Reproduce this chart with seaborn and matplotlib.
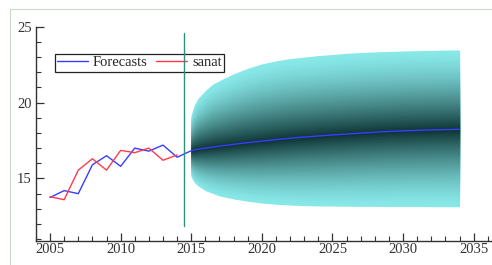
import numpy as np
import pandas as pd
import matplotlib
matplotlib.use("Agg")
import matplotlib.pyplot as plt
from matplotlib.patches import Rectangle
from matplotlib.colors import to_rgb
import seaborn as sns

# ---- data ----
hist_years = list(range(2005, 2015))
sanat = [13.8, 13.6, 15.55, 16.3, 15.55, 16.85, 16.7, 17.0, 16.2, 16.55]
fitted_years = list(range(2005, 2015))
fitted = [13.75, 14.2, 14.0, 15.9, 16.5, 15.8, 17.0, 16.8, 17.2, 16.4]

fc_years = [2015, 2015.25, 2015.5, 2016, 2016.5, 2017, 2018, 2019, 2020, 2021,
            2022, 2023, 2024, 2025, 2026, 2027, 2028, 2029, 2030, 2031,
            2032, 2033, 2034]
forecast = [16.83, 16.88, 16.93, 17.0, 17.07, 17.13, 17.25, 17.36, 17.46, 17.56,
            17.65, 17.73, 17.8, 17.87, 17.93, 17.99, 18.05, 18.1, 18.14, 18.17,
            18.2, 18.22, 18.24]
upper = [19.2, 19.9, 20.3, 20.8, 21.2, 21.45, 21.9, 22.26, 22.55, 22.75,
         22.9, 23.0, 23.1, 23.17, 23.25, 23.3, 23.34, 23.37, 23.4, 23.42,
         23.44, 23.46, 23.47]
lower = [15.1, 14.7, 14.5, 14.2, 14.02, 13.85, 13.65, 13.5, 13.38, 13.3,
         13.25, 13.21, 13.19, 13.18, 13.17, 13.16, 13.16, 13.15, 13.15, 13.15,
         13.14, 13.14, 13.14]
break_year = 2014.5

sns.set_theme(style="ticks")
plt.rcParams['font.family'] = ['Liberation Serif', 'DejaVu Serif']

fig = plt.figure(figsize=(4.92, 2.65), dpi=100)
ax = fig.add_axes([0.073, 0.0917, 0.927, 0.8075])

# fan chart with gradient (layered fills)
fy = np.array(fc_years, float)
fc = np.array(forecast)
up = np.array(upper)
lo = np.array(lower)
outer = np.array(to_rgb("#88e8e8"))
inner = np.array(to_rgb("#0c3232"))
n = 50
for i in range(n):
    t = 1 - i / n  # from outer to inner
    s = (1 - t) ** 1.45
    col = outer * (1 - s) + inner * s
    ax.fill_between(fy, fc + t * (up - fc), fc + t * (lo - fc),
                    color=col, linewidth=0, zorder=1)

# history lines
df_hist = pd.DataFrame({"year": hist_years, "value": sanat})
df_fit = pd.DataFrame({"year": fitted_years + fc_years,
                       "value": fitted + forecast})
sns.lineplot(data=df_fit, x="year", y="value", ax=ax, color="#3a3cff",
             lw=1.0, label="Forecasts", zorder=3)
sns.lineplot(data=df_hist, x="year", y="value", ax=ax, color="#ff3a4a",
             lw=1.0, label="sanat", zorder=3)

ax.set_xlim(2004, 2036.3)
ax.set_ylim(10.9, 25)
ax.set_xticks([2005, 2010, 2015, 2020, 2025, 2030, 2035])
ax.set_yticks([15, 20, 25])
ax.set_xticks(range(2004, 2037), minor=True)
ax.set_yticks(range(11, 26), minor=True)
ax.tick_params(which="major", direction="in", length=6, width=0.9,
               labelsize=10.5, colors="#333333", pad=3)
ax.tick_params(which="minor", direction="in", length=3.5, width=0.8, colors="#333333")
ax.tick_params(axis="x", pad=2)
ax.set_xlabel("")
ax.set_ylabel("")
for side in ["top", "right"]:
    ax.spines[side].set_visible(False)
for side in ["left", "bottom"]:
    ax.spines[side].set_color("#333333")
    ax.spines[side].set_linewidth(1.0)
ax.set_facecolor("none")

leg = ax.legend(loc="upper left", bbox_to_anchor=(0.042, 0.872), ncol=2,
                frameon=True, fancybox=False, fontsize=10.5,
                handlelength=2.1, handletextpad=0.35, columnspacing=0.6,
                borderpad=0.15, borderaxespad=0)
leg.get_frame().set_edgecolor("#222222")
leg.get_frame().set_linewidth(0.9)
leg.get_frame().set_alpha(1.0)
leg.set_zorder(2)

ax.plot([break_year, break_year], [11.9, 24.6], color="#2f8f7f", lw=1.0, zorder=4)

fig.patches.append(Rectangle((10 / 492, -0.01), 1.0, (265 - 9) / 265 + 0.01,
                             transform=fig.transFigure, fill=False,
                             edgecolor="#c9d9c9", linewidth=0.8))

fig.savefig("out.png", dpi=100)
